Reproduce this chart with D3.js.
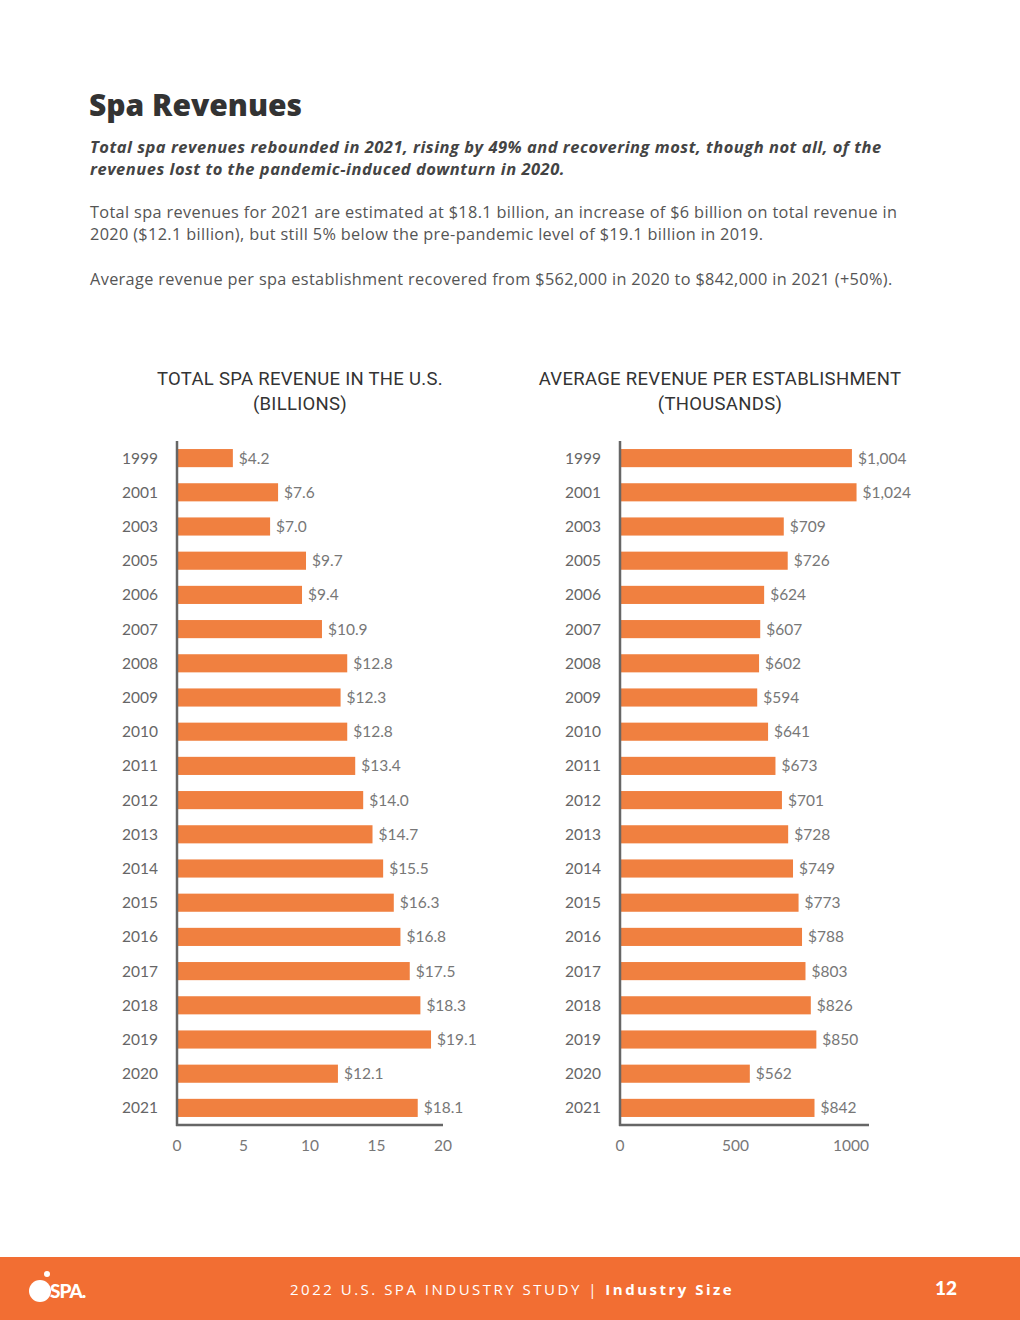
<!DOCTYPE html>
<html>
<head>
	<script src="https://d3js.org/d3.v7.min.js"></script>
	<style>
		body { margin: 0; background: #fff; }
		svg text { font-family: Lato, "Open Sans", sans-serif; }
	</style>
</head>
<body>
	<script type="text/javascript">

		// years shown on both charts
		var years = ["1999","2001","2003","2005","2006","2007","2008","2009","2010","2011",
			"2012","2013","2014","2015","2016","2017","2018","2019","2020","2021"];

		// total revenue, billions of dollars
		var totalRevenue = [4.2, 7.6, 7.0, 9.7, 9.4, 10.9, 12.8, 12.3, 12.8, 13.4,
			14.0, 14.7, 15.5, 16.3, 16.8, 17.5, 18.3, 19.1, 12.1, 18.1];

		// average revenue per establishment, thousands of dollars
		var avgRevenue = [1004, 1024, 709, 726, 624, 607, 602, 594, 641, 673,
			701, 728, 749, 773, 788, 803, 826, 850, 562, 842];

		var totalTicks = [0, 5, 10, 15, 20];
		var avgTicks = [0, 500, 1000];

		var W = 1020, H = 1320;
		var orange = "#F08040";
		var sans = "'Open Sans', sans-serif";

		var svg = d3.select("body")
			.append("svg")
			.attr("width", W)
			.attr("height", H);

		// page header
		svg.append("text")
			.attr("x", 89).attr("y", 116)
			.attr("font-size", 30).attr("font-weight", 800)
			.attr("fill", "#333")
			.style("font-family", sans)
			.text("Spa Revenues");

		var lead = ["Total spa revenues rebounded in 2021, rising by 49% and recovering most, though not all, of the",
			"revenues lost to the pandemic-induced downturn in 2020."];
		svg.selectAll(".lead")
			.data(lead)
			.enter()
			.append("text")
			.attr("class", "lead")
			.attr("x", 90)
			.attr("y", function(d, i) { return 153 + i * 22; })
			.attr("font-size", 16.5).attr("font-weight", 700).attr("font-style", "italic")
			.attr("letter-spacing", 0.5)
			.attr("fill", "#444")
			.style("font-family", sans)
			.text(function(d) { return d; });

		var body = [
			[218, "Total spa revenues for 2021 are estimated at $18.1 billion, an increase of $6 billion on total revenue in"],
			[240, "2020 ($12.1 billion), but still 5% below the pre-pandemic level of $19.1 billion in 2019."],
			[285, "Average revenue per spa establishment recovered from $562,000 in 2020 to $842,000 in 2021 (+50%)."]
		];
		svg.selectAll(".body")
			.data(body)
			.enter()
			.append("text")
			.attr("class", "body")
			.attr("x", 90)
			.attr("y", function(d) { return d[0]; })
			.attr("font-size", 16.3)
			.attr("letter-spacing", 0.35)
			.attr("fill", "#555")
			.style("font-family", sans)
			.text(function(d) { return d[1]; });

		// one bar chart
		function drawChart(opts) {
			var g = svg.append("g");

			var y = d3.scaleBand()
				.domain(years)
				.range([441, 1125])
				.paddingInner(0.47)
				.paddingOuter(0.235);

			var x = d3.scaleLinear()
				.domain([0, opts.max])
				.range([opts.x0, opts.x1]);

			// title
			g.selectAll(".ttl")
				.data(opts.title)
				.enter()
				.append("text")
				.attr("x", opts.cx)
				.attr("y", function(d, i) { return 385 + i * 25; })
				.attr("text-anchor", "middle")
				.attr("font-size", 18.5).attr("font-weight", 400)
				.attr("letter-spacing", 0.3)
				.attr("fill", "#333")
				.style("font-family", "Roboto, sans-serif")
				.text(function(d) { return d; });

			g.selectAll("rect")
				.data(opts.values)
				.enter()
				.append("rect")
				.attr("x", x(0))
				.attr("y", function(d, i) { return y(years[i]); })
				.attr("width", function(d) { return x(d) - x(0); })
				.attr("height", y.bandwidth())
				.attr("fill", orange);

			g.selectAll(".val")
				.data(opts.values)
				.enter()
				.append("text")
				.attr("class", "val")
				.attr("x", function(d) { return x(d) + 6; })
				.attr("y", function(d, i) { return y(years[i]) + y.bandwidth() / 2; })
				.attr("dy", "0.36em")
				.attr("font-size", 15.5)
				.attr("fill", "#777")
				.text(opts.fmt);

			g.selectAll(".yr")
				.data(years)
				.enter()
				.append("text")
				.attr("class", "yr")
				.attr("x", opts.x0 - 19)
				.attr("y", function(d) { return y(d) + y.bandwidth() / 2; })
				.attr("dy", "0.36em")
				.attr("text-anchor", "end")
				.attr("font-size", 15.5)
				.attr("fill", "#666")
				.text(function(d) { return d; });

			// axes lines
			g.append("line")
				.attr("x1", opts.x0).attr("x2", opts.x0)
				.attr("y1", 441).attr("y2", 1126)
				.attr("stroke", "#666").attr("stroke-width", 2.5);
			g.append("line")
				.attr("x1", opts.x0 - 1).attr("x2", opts.axisEnd)
				.attr("y1", 1125).attr("y2", 1125)
				.attr("stroke", "#666").attr("stroke-width", 2.5);

			g.selectAll(".tick")
				.data(opts.ticks)
				.enter()
				.append("text")
				.attr("class", "tick")
				.attr("x", function(d) { return x(d); })
				.attr("y", 1151)
				.attr("text-anchor", "middle")
				.attr("font-size", 15.5)
				.attr("fill", "#777")
				.text(function(d) { return d; });
		}

		drawChart({
			title: ["TOTAL SPA REVENUE IN THE U.S.", "(BILLIONS)"],
			cx: 300,
			values: totalRevenue,
			max: 20,
			x0: 177, x1: 443, axisEnd: 443,
			ticks: totalTicks,
			fmt: function(d) { return "$" + d.toFixed(1); }
		});

		drawChart({
			title: ["AVERAGE REVENUE PER ESTABLISHMENT", "(THOUSANDS)"],
			cx: 720,
			values: avgRevenue,
			max: 1000,
			x0: 620, x1: 851, axisEnd: 869,
			ticks: avgTicks,
			fmt: function(d) { return "$" + d3.format(",")(d); }
		});

		// footer band
		svg.append("rect")
			.attr("x", 0).attr("y", 1257)
			.attr("width", W).attr("height", 63)
			.attr("fill", "#F26E33");

		// logo
		svg.append("circle").attr("cx", 40).attr("cy", 1291).attr("r", 11).attr("fill", "#fff");
		svg.append("circle").attr("cx", 47).attr("cy", 1274).attr("r", 3).attr("fill", "#fff");
		svg.append("text")
			.attr("x", 50).attr("y", 1298)
			.attr("font-size", 19).attr("font-weight", 900)
			.attr("letter-spacing", -1)
			.attr("fill", "#fff")
			.text("SPA.");

		var foot = svg.append("text")
			.attr("x", 290).attr("y", 1295)
			.attr("font-size", 15)
			.attr("letter-spacing", 2.5)
			.attr("fill", "#fff")
			.style("font-family", sans);
		foot.append("tspan").text("2022 U.S. SPA INDUSTRY STUDY  |  ");
		foot.append("tspan").attr("font-weight", 700).text("Industry Size");

		svg.append("text")
			.attr("x", 935).attr("y", 1295)
			.attr("font-size", 19).attr("font-weight", 900)
			.attr("fill", "#fff")
			.text("12");

	</script>
</body>
</html>
